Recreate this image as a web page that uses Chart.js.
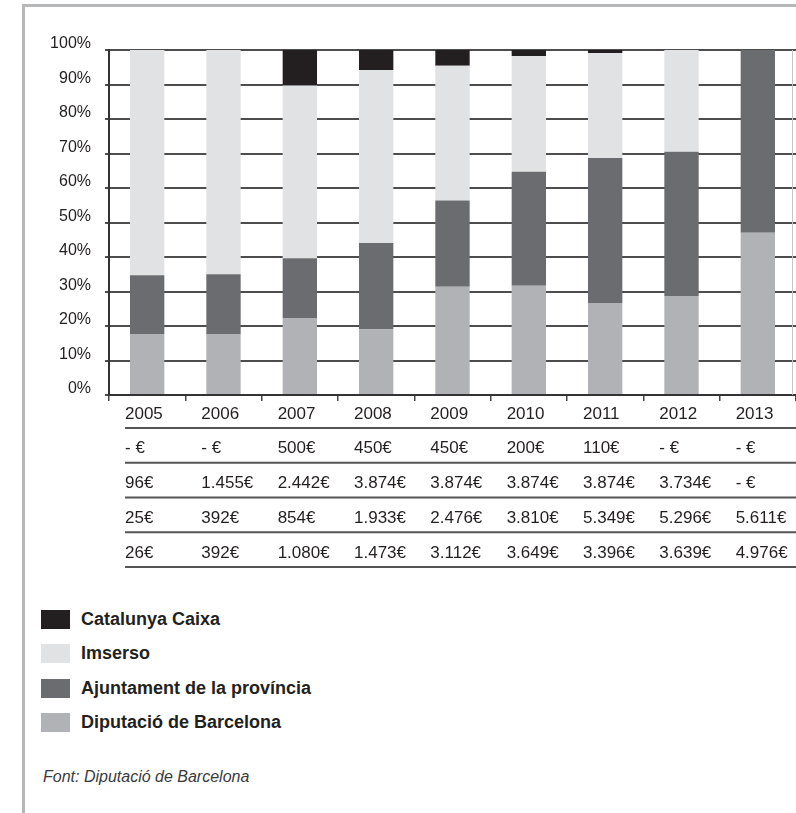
<!DOCTYPE html>
<html>
<head>
<meta charset="utf-8">
<script src="https://cdn.jsdelivr.net/npm/chart.js@4.4.1/dist/chart.umd.min.js"></script>
<style>
  body { margin: 0; background: #fff; font-family: "Liberation Sans", Arial, sans-serif; color: #231f20; }
  #page { position: relative; width: 796px; height: 813px; overflow: hidden; }
  #frame { position: absolute; left: 22px; top: 4px; right: 0; bottom: 0; border-left: 3px solid #b6b7b9; border-top: 3px solid #b6b7b9; }
  #chartBox { position: absolute; left: 0; top: 0; width: 796px; height: 580px; }
  #legend { position: absolute; left: 41px; top: 602px; }
  .item { display: flex; align-items: center; height: 34.5px; }
  .swatch { width: 29px; height: 19px; margin-right: 11px; }
  .item span { font-weight: bold; font-size: 18px; }
  #source { position: absolute; left: 43px; top: 768px; font-size: 16px; font-style: italic; color: #3a3a3a; }
</style>
</head>
<body>
<div id="page">
  <div id="frame"></div>
  <div id="chartBox"><canvas id="fundingChart" width="796" height="580"></canvas></div>
  <div id="legend"></div>
  <div id="source">Font: Diputació de Barcelona</div>
</div>
<script>
const years = ["2005", "2006", "2007", "2008", "2009", "2010", "2011", "2012", "2013"];
// euros per year
const catalunyaCaixa = [0, 0, 500, 450, 450, 200, 110, 0, 0];
const imserso = [96, 1455, 2442, 3874, 3874, 3874, 3874, 3734, 0];
const ajuntament = [25, 392, 854, 1933, 2476, 3810, 5349, 5296, 5611];
const diputacio = [26, 392, 1080, 1473, 3112, 3649, 3396, 3639, 4976];

const seriesNames = ["Catalunya Caixa", "Imserso", "Ajuntament de la província", "Diputació de Barcelona"];
const seriesColors = ["#231f20", "#e1e2e4", "#6b6c6f", "#b1b2b5"];

const totals = years.map((y, i) => catalunyaCaixa[i] + imserso[i] + ajuntament[i] + diputacio[i]);
const pct = arr => arr.map((v, i) => v / totals[i] * 100);

function euro(v) {
    if (v === 0) return "- €";
    return String(v).replace(/\B(?=(\d{3})+(?!\d))/g, ".") + "€";
}

const tableRows = [
    years,
    catalunyaCaixa.map(euro),
    imserso.map(euro),
    ajuntament.map(euro),
    diputacio.map(euro)
];

const dataTable = {
    id: "dataTable",
    beforeDatasetsDraw(chart) {
        // thin light rule at the right edge of the plot
        const { ctx, chartArea } = chart;
        ctx.save();
        ctx.strokeStyle = "#c4c5c7";
        ctx.lineWidth = 1;
        ctx.beginPath();
        ctx.moveTo(chart.width - 3.5, chartArea.top);
        ctx.lineTo(chart.width - 3.5, chartArea.bottom);
        ctx.stroke();
        ctx.restore();
    },
    afterDraw(chart) {
        const { ctx, chartArea, scales: { x } } = chart;
        const half = (x.getPixelForValue(1) - x.getPixelForValue(0)) / 2;
        ctx.save();
        ctx.font = '17px "Liberation Sans", Arial, sans-serif';
        ctx.fillStyle = "#231f20";
        ctx.textAlign = "left";
        ctx.textBaseline = "middle";
        ctx.strokeStyle = "#555";
        ctx.lineWidth = 2;
        tableRows.forEach((row, r) => {
            const lineY = chartArea.bottom + 33 + r * 34.75;
            row.forEach((t, i) => ctx.fillText(t, x.getPixelForValue(i) - half + 16, lineY - 14));
            ctx.beginPath();
            ctx.moveTo(chartArea.left + 16, lineY);
            ctx.lineTo(chart.width, lineY);
            ctx.stroke();
        });
        ctx.restore();
    }
};

// legend as html
const legend = document.getElementById("legend");
seriesNames.forEach((name, i) => {
    const item = document.createElement("div");
    item.className = "item";
    item.innerHTML = `<div class="swatch" style="background:${seriesColors[i]}"></div><span>${name}</span>`;
    legend.appendChild(item);
});

// bottom of the stack first
const stackOrder = [3, 2, 1, 0];
const seriesData = [catalunyaCaixa, imserso, ajuntament, diputacio];

new Chart(document.getElementById("fundingChart"), {
    type: "bar",
    data: {
        labels: years,
        datasets: stackOrder.map(k => ({
            label: seriesNames[k],
            data: pct(seriesData[k]),
            backgroundColor: seriesColors[k],
            barPercentage: 0.45,
            categoryPercentage: 1
        }))
    },
    options: {
        responsive: false,
        animation: false,
        layout: { padding: { top: 50, left: 0, right: 0, bottom: 0 } },
        plugins: { legend: { display: false }, tooltip: { enabled: false } },
        scales: {
            x: {
                stacked: true,
                grid: { drawOnChartArea: false, drawTicks: true, tickLength: 6, offset: true, color: "#444", lineWidth: 1.5 },
                border: { display: true, color: "#333", width: 2 },
                ticks: { display: false },
                afterFit: s => { s.height = 580 - 395; }
            },
            y: {
                stacked: true,
                min: 0,
                max: 100,
                grid: { color: "#4d4d4d", lineWidth: 2, tickLength: 4 },
                border: { display: true, color: "#333", width: 2 },
                ticks: {
                    stepSize: 10,
                    padding: 14,
                    labelOffset: -6,
                    color: "#231f20",
                    font: { family: '"Liberation Sans", Arial, sans-serif', size: 16 },
                    callback: v => v + "%"
                },
                afterFit: s => { s.width = 109; }
            }
        }
    },
    plugins: [dataTable]
});
</script>
</body>
</html>
